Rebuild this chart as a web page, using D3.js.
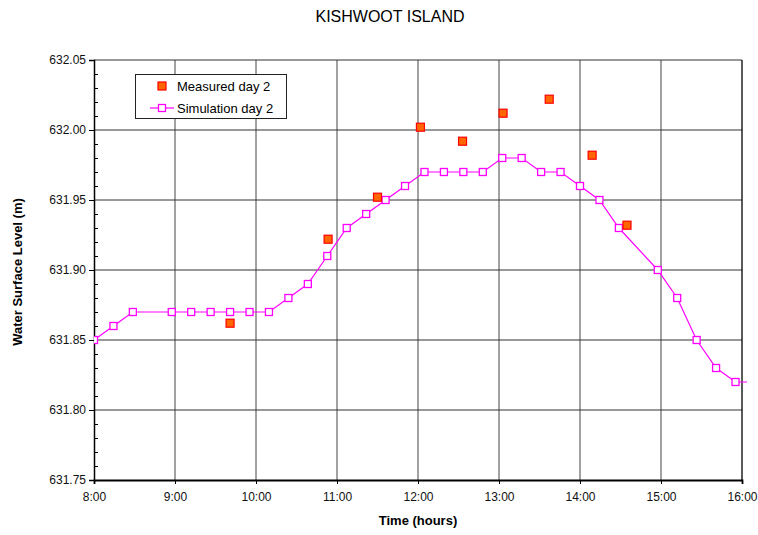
<!DOCTYPE html>
<html lang="en">
<head>
<meta charset="utf-8">
<title>Kishwoot Island</title>
<script src="https://d3js.org/d3.v7.min.js"></script>
<style>
  body{margin:0;background:#fff;font-family:"Liberation Sans",Arial,sans-serif;}
</style>
</head>
<body>
<div id="chart"></div>
<script>
// simulated water level, every ~0.24 h
var simTime = [8.00, 8.24, 8.48, 8.96, 9.20, 9.44, 9.68, 9.92, 10.16, 10.40, 10.64, 10.88,
  11.12, 11.36, 11.60, 11.84, 12.08, 12.32, 12.56, 12.80, 13.04, 13.28, 13.52, 13.76,
  14.00, 14.24, 14.48, 14.96, 15.20, 15.44, 15.68, 15.92, 16.16]
var simLevel = [631.85, 631.86, 631.87, 631.87, 631.87, 631.87, 631.87, 631.87, 631.87, 631.88, 631.89, 631.91,
  631.93, 631.94, 631.95, 631.96, 631.97, 631.97, 631.97, 631.97, 631.98, 631.98, 631.97, 631.97,
  631.96, 631.95, 631.93, 631.90, 631.88, 631.85, 631.83, 631.82, 631.82]

// measured points
var measTime = [9.68, 10.89, 11.50, 12.03, 12.55, 13.05, 13.62, 14.15, 14.58]
var measLevel = [631.862, 631.922, 631.952, 632.002, 631.992, 632.012, 632.022, 631.982, 631.932]

var hourTicks = [8, 9, 10, 11, 12, 13, 14, 15, 16]
var hourLabels = ["8:00", "9:00", "10:00", "11:00", "12:00", "13:00", "14:00", "15:00", "16:00"]
var levelTicks = [631.75, 631.80, 631.85, 631.90, 631.95, 632.00, 632.05]

var W = 758, H = 535
var pL = 94, pR = 742, pT = 60, pB = 480

var x = d3.scaleLinear().domain([8, 16]).range([pL, pR])
var y = d3.scaleLinear().domain([631.75, 632.05]).range([pB, pT])

var svg = d3.select("#chart").append("svg").attr("width", W).attr("height", H)

svg.append("defs").append("clipPath").attr("id", "clip")
  .append("rect").attr("x", pL).attr("y", pT - 5).attr("width", pR - pL + 5).attr("height", pB - pT + 10)

// grid
svg.append("g").selectAll("line").data(hourTicks.slice(1, -1)).enter().append("line")
  .attr("x1", d => x(d)).attr("x2", d => x(d)).attr("y1", pT).attr("y2", pB)
  .attr("stroke", "#444").attr("stroke-width", 1)
svg.append("g").selectAll("line").data(levelTicks.slice(1)).enter().append("line")
  .attr("x1", pL).attr("x2", pR).attr("y1", d => y(d)).attr("y2", d => y(d))
  .attr("stroke", "#333").attr("stroke-width", 1)

// right border
svg.append("line").attr("x1", pR).attr("x2", pR).attr("y1", pT).attr("y2", pB)
  .attr("stroke", "#000").attr("stroke-width", 1.3)

// minor y ticks, inside
var minor = d3.range(631.75, 632.05, 0.01).filter(v => Math.abs(Math.round(v * 20) - v * 20) > 0.01)
svg.append("g").attr("transform", "translate(" + pL + ",0)")
  .call(d3.axisRight(y).tickValues(minor).tickSize(4).tickFormat(""))
  .call(g => g.select(".domain").remove())

// y axis
var yAxis = svg.append("g").attr("transform", "translate(" + pL + ",0)")
  .call(d3.axisLeft(y).tickValues(levelTicks).tickSize(5).tickPadding(3).tickFormat(d3.format(".2f")))
yAxis.select(".domain").attr("stroke-width", 1.5)
yAxis.selectAll("text").attr("font-size", 12).attr("font-family", "Liberation Sans, Arial").attr("fill", "#111")

// x axis
var xAxis = svg.append("g").attr("transform", "translate(0," + pB + ")")
  .call(d3.axisBottom(x).tickValues(hourTicks).tickSize(4).tickPadding(8).tickFormat((d, i) => hourLabels[i]))
xAxis.select(".domain").attr("stroke-width", 1.8)
xAxis.selectAll("text").attr("font-size", 12).attr("font-family", "Liberation Sans, Arial").attr("fill", "#111")

// simulation line
var simData = simTime.map((t, i) => ({t: t, v: simLevel[i]}))
var plot = svg.append("g").attr("clip-path", "url(#clip)")
plot.append("path").datum(simData)
  .attr("d", d3.line().x(d => x(d.t)).y(d => y(d.v)))
  .attr("fill", "none").attr("stroke", "#ff00ff").attr("stroke-width", 1.2)
plot.selectAll("rect.sim").data(simData).enter().append("rect").attr("class", "sim")
  .attr("x", d => x(d.t) - 3.5).attr("y", d => y(d.v) - 3.5)
  .attr("width", 7).attr("height", 7)
  .attr("fill", "#fff").attr("stroke", "#ff00ff").attr("stroke-width", 1.3)

// measured points
var measData = measTime.map((t, i) => ({t: t, v: measLevel[i]}))
svg.selectAll("rect.meas").data(measData).enter().append("rect").attr("class", "meas")
  .attr("x", d => x(d.t) - 4).attr("y", d => y(d.v) - 4)
  .attr("width", 8).attr("height", 8)
  .attr("fill", "#ff6600").attr("stroke", "#ff0000").attr("stroke-width", 1.2)

// legend
var lg = svg.append("g")
lg.append("rect").attr("x", 135.5).attr("y", 74.5).attr("width", 151).attr("height", 44)
  .attr("fill", "#fff").attr("stroke", "#222").attr("stroke-width", 1)
lg.append("rect").attr("x", 158).attr("y", 82).attr("width", 8).attr("height", 8)
  .attr("fill", "#ff6600").attr("stroke", "#ff0000").attr("stroke-width", 1.2)
lg.append("text").attr("x", 177).attr("y", 91).attr("font-size", 13).text("Measured day 2")
lg.append("line").attr("x1", 150).attr("x2", 174).attr("y1", 108).attr("y2", 108)
  .attr("stroke", "#ff00ff").attr("stroke-width", 1.2)
lg.append("rect").attr("x", 158.5).attr("y", 104.5).attr("width", 7).attr("height", 7)
  .attr("fill", "#fff").attr("stroke", "#ff00ff").attr("stroke-width", 1.3)
lg.append("text").attr("x", 177).attr("y", 113).attr("font-size", 13).text("Simulation day 2")

// titles
svg.append("text").attr("x", 390).attr("y", 22).attr("text-anchor", "middle")
  .attr("font-size", 16).text("KISHWOOT ISLAND")
svg.append("text").attr("x", 418).attr("y", 525).attr("text-anchor", "middle")
  .attr("font-size", 13).attr("font-weight", "bold").text("Time (hours)")
svg.append("text").attr("transform", "translate(22,272) rotate(-90)").attr("text-anchor", "middle")
  .attr("font-size", 13).attr("font-weight", "bold").text("Water Surface Level (m)")
</script>
</body>
</html>
